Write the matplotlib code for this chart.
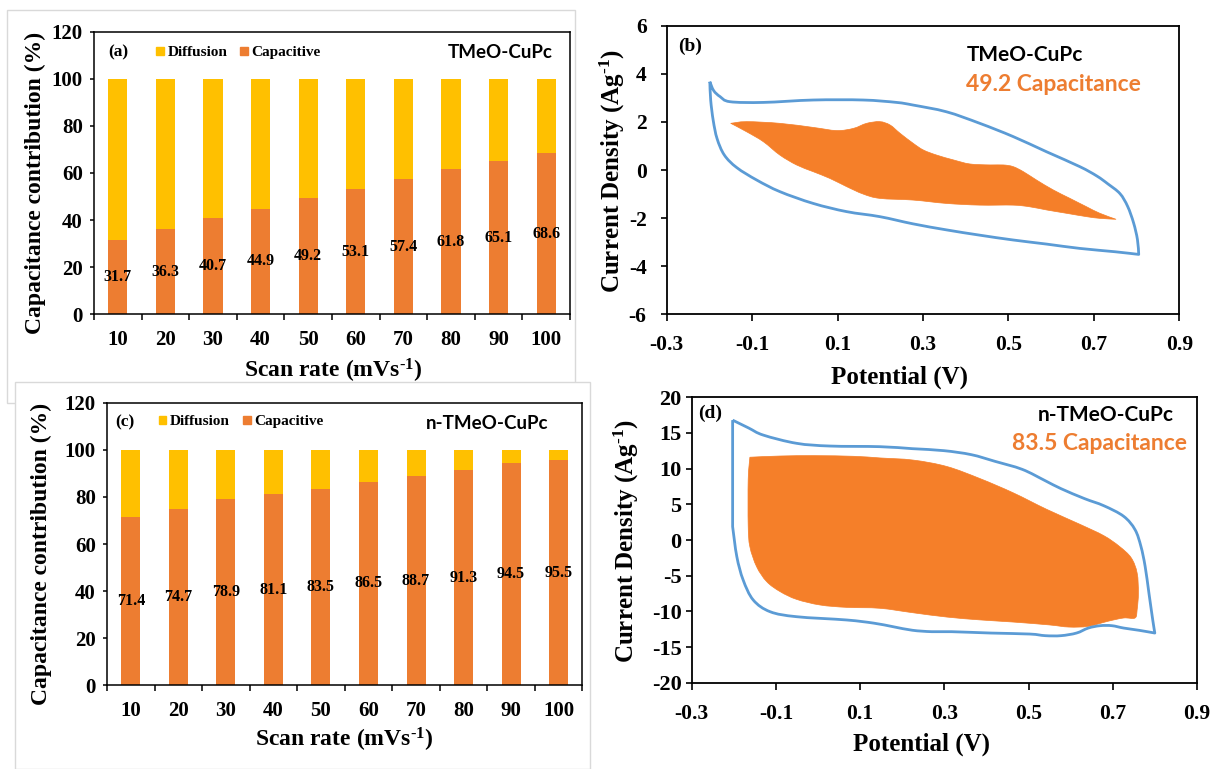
import numpy as np
import matplotlib
matplotlib.use("Agg")
import matplotlib.pyplot as plt
from matplotlib.patches import Patch, Rectangle, PathPatch
from matplotlib.path import Path

# ---------------- data ----------------
scan_rates = ["10", "20", "30", "40", "50", "60", "70", "80", "90", "100"]
capacitive_tmeo = [31.7, 36.3, 40.7, 44.9, 49.2, 53.1, 57.4, 61.8, 65.1, 68.6]
capacitive_ntmeo = [71.4, 74.7, 78.9, 81.1, 83.5, 86.5, 88.7, 91.3, 94.5, 95.5]
bar_yticks = [0, 20, 40, 60, 80, 100, 120]

potential_ticks = [-0.3, -0.1, 0.1, 0.3, 0.5, 0.7, 0.9]
potential_labels = ["-0.3", "-0.1", "0.1", "0.3", "0.5", "0.7", "0.9"]
current_ticks_b = [-6, -4, -2, 0, 2, 4, 6]
current_ticks_d = [-20, -15, -10, -5, 0, 5, 10, 15, 20]

# TMeO-CuPc: total CV loop (V, A/g)
cv_total_b_v = [-0.199, -0.190, -0.175, -0.152, -0.074, 0.043, 0.160, 0.238, 0.277, 0.355,
                0.433, 0.511, 0.589, 0.667, 0.707, 0.733, 0.761, 0.779, 0.793, 0.802, 0.805,
                0.750, 0.667, 0.589, 0.511, 0.433, 0.355, 0.277, 0.199, 0.121, 0.043,
                -0.035, -0.089, -0.136, -0.165, -0.182, -0.191, -0.197, -0.199]
cv_total_b_i = [3.67, 3.30, 3.05, 2.84, 2.81, 2.91, 2.91, 2.81, 2.70, 2.42,
                1.94, 1.39, 0.76, 0.14, -0.25, -0.58, -0.98, -1.51, -2.20, -2.89, -3.51,
                -3.40, -3.26, -3.08, -2.91, -2.71, -2.49, -2.24, -1.94, -1.73, -1.39,
                -0.90, -0.42, 0.10, 0.62, 1.30, 2.05, 2.90, 3.67]
# TMeO-CuPc: capacitive contribution region
cv_cap_b_v = [-0.150, -0.113, -0.035, 0.043, 0.098, 0.137, 0.168, 0.199, 0.223, 0.246,
              0.277, 0.301, 0.332, 0.371, 0.410, 0.457, 0.488, 0.511, 0.535, 0.566,
              0.605, 0.644, 0.683, 0.714, 0.752,
              0.714, 0.683, 0.636, 0.589, 0.550, 0.511, 0.433, 0.355, 0.277, 0.199,
              0.160, 0.121, 0.082, 0.043, 0.004, -0.035, -0.074, -0.113]
cv_cap_b_i = [1.94, 2.01, 1.94, 1.77, 1.64, 1.73, 1.94, 2.01, 1.87, 1.53,
              1.11, 0.83, 0.62, 0.42, 0.25, 0.21, 0.21, 0.14, -0.07, -0.42,
              -0.83, -1.18, -1.53, -1.80, -2.05,
              -2.01, -1.94, -1.80, -1.66, -1.53, -1.46, -1.46, -1.39, -1.25, -1.18,
              -1.00, -0.69, -0.35, -0.07, 0.21, 0.62, 1.18, 1.59]

# n-TMeO-CuPc: total CV loop
cv_total_d_v = [-0.203, -0.165, -0.130, -0.051, 0.028, 0.147, 0.224, 0.299, 0.364, 0.420,
                0.485, 0.540, 0.577, 0.633, 0.679, 0.726, 0.753, 0.767, 0.777, 0.786,
                0.795, 0.800,
                0.763, 0.726, 0.698, 0.670, 0.642, 0.614, 0.577, 0.540, 0.503, 0.410,
                0.317, 0.270, 0.224, 0.178, 0.132, 0.068, -0.051, -0.114, -0.154, -0.178,
                -0.193, -0.203, -0.203]
cv_total_d_i = [16.8, 15.7, 14.7, 13.55, 13.17, 13.08, 12.80, 12.52, 11.96, 11.03,
                9.9, 8.3, 7.2, 5.8, 4.8, 3.32, 1.45, -0.89, -3.69, -7.43,
                -11.17, -13.04,
                -12.66, -12.34, -12.01, -12.01, -12.34, -13.04, -13.41, -13.41, -13.18, -13.04,
                -12.85, -12.85, -12.65, -12.15, -11.65, -11.21, -10.75, -10.05, -8.41, -5.6,
                -2.34, 1.87, 16.8]
# n-TMeO-CuPc: capacitive contribution region
cv_cap_d_v = [-0.162, -0.090, -0.008, 0.085, 0.147, 0.226, 0.306, 0.385, 0.464, 0.543,
              0.622, 0.679, 0.716, 0.744, 0.758, 0.761, 0.758, 0.753,
              0.726, 0.688, 0.642, 0.596, 0.549, 0.464, 0.385, 0.306, 0.226, 0.147,
              0.068, 0.005, -0.051, -0.090, -0.122, -0.146, -0.162, -0.166, -0.166]
cv_cap_d_i = [11.6, 11.77, 11.82, 11.73, 11.5, 11.2, 10.3, 8.6, 6.6, 4.3,
              2.2, 0.6, -0.9, -2.5, -4.63, -7.43, -9.77, -10.93,
              -10.93, -11.4, -12.1, -12.2, -11.9, -11.5, -11.2, -10.8, -10.2, -9.57,
              -9.44, -9.11, -8.32, -7.24, -5.84, -3.74, -0.94, 2.0, 8.5]

# ---------------- style ----------------
YELLOW = "#FFC000"
ORANGE = "#ED7D31"
FILL = "#F57F29"
BLUE = "#5B9BD5"
SERIF = "Liberation Serif"
SANS = "Lato"

plt.rcParams.update({
    "font.family": SERIF,
    "font.weight": "bold",
    "axes.labelweight": "bold",
    "mathtext.fontset": "custom",
    "mathtext.rm": "Liberation Serif:bold",
    "mathtext.it": "Liberation Serif:bold",
    "mathtext.bf": "Liberation Serif:bold",
    "axes.unicode_minus": False,
})

W, H = 1213, 769
fig = plt.figure(figsize=(W / 100, H / 100), dpi=100)
fig.patch.set_facecolor("white")


def px_axes(left, top, right, bottom):
    return fig.add_axes([left / W, 1 - bottom / H, (right - left) / W, (bottom - top) / H])


def smooth_path(xs, ys, corners=(), close=False):
    """Smoothed (Bezier) path through the given points, like a spreadsheet 'smooth line'."""
    pts = np.column_stack([xs, ys]).astype(float)
    if close:
        pts = np.vstack([pts, pts[:1]])
    n = len(pts)
    sharp = set(corners) | {0, n - 1}
    verts = [pts[0]]
    codes = [Path.MOVETO]
    for k in range(n - 1):
        p1, p2 = pts[k], pts[k + 1]
        p0 = p1 if k in sharp else pts[k - 1]
        p3 = p2 if (k + 1) in sharp else pts[k + 2]
        verts += [p1 + (p2 - p0) / 6.0, p2 - (p3 - p1) / 6.0, p2]
        codes += [Path.CURVE4] * 3
    return Path(verts, codes)


# faint borders of the two left-hand sub-figures
fig.add_artist(Rectangle((7 / W, 1 - 403 / H), (575 - 7) / W, (403 - 10) / H,
                         transform=fig.transFigure, fill=False, ec="#d9d9d9", lw=1, zorder=-2))
fig.add_artist(Rectangle((15 / W, 0), (590 - 15) / W, 1 - 382 / H,
                         transform=fig.transFigure, fc="white", ec="#d9d9d9", lw=1, zorder=-1))

SUP = "$^{\\text{-}1}$"


def bar_panel(ax, capacitive, tag, name, tag_xy, leg_xy, name_xy, ylab_xy, xlab_xy):
    x = np.arange(len(scan_rates))
    diffusion = [100 - c for c in capacitive]
    ax.bar(x, capacitive, 0.4, color=ORANGE, zorder=2)
    ax.bar(x, diffusion, 0.4, bottom=capacitive, color=YELLOW, zorder=2)
    for xi, c in zip(x, capacitive):
        ax.text(xi, c / 2, f"{c:.1f}", ha="center", va="center", fontsize=11.5,
                fontweight="bold", zorder=3)
    ax.set_xlim(-0.5, len(scan_rates) - 0.5)
    ax.set_ylim(0, 120)
    ax.set_yticks(bar_yticks)
    ax.set_xticks(x)
    ax.set_xticklabels(scan_rates)
    ax.set_xticks(np.arange(-0.5, len(scan_rates), 1), minor=True)
    ax.tick_params(axis="x", which="major", length=0, pad=11, labelsize=15)
    ax.tick_params(axis="x", which="minor", length=4.5, width=1.1, direction="out")
    ax.tick_params(axis="y", length=3, width=1.1, pad=5, labelsize=15)
    for s in ax.spines.values():
        s.set_linewidth(1.1)
    ax.text(*tag_xy, tag, transform=ax.transAxes, ha="left", va="center",
            fontsize=12.5, fontweight="bold")
    ax.text(*name_xy, name, transform=ax.transAxes, ha="right", va="center",
            fontsize=13.5, fontweight="bold", family=SANS)
    handles = [Patch(color=YELLOW), Patch(color=ORANGE)]
    ax.legend(handles, ["Diffusion", "Capacitive"], loc="center left",
              bbox_to_anchor=leg_xy, ncol=2, frameon=False, fontsize=11,
              handlelength=0.5, handleheight=0.5, handletextpad=0.25,
              columnspacing=0.85, borderpad=0, borderaxespad=0)
    ax.set_ylabel("Capacitance contribution (%)", fontsize=17)
    ax.set_xlabel("Scan rate (mVs" + SUP + ")", fontsize=17)
    ax.yaxis.label.set_va("center")
    ax.xaxis.label.set_va("center")
    ax.yaxis.set_label_coords(*ylab_xy)
    ax.xaxis.set_label_coords(*xlab_xy)


def cv_panel(ax, total_v, total_i, total_corners, cap_v, cap_i, cap_corners, ylim, yticks,
             tag, name, share, tag_xy, name_xy, share_xy, ylab_xy, xlab_xy, ypad, ysize):
    ax.add_patch(PathPatch(smooth_path(cap_v, cap_i, cap_corners, close=True),
                           fc=FILL, ec=FILL, lw=0.5, zorder=2))
    ax.add_patch(PathPatch(smooth_path(total_v, total_i, total_corners),
                           fill=False, ec=BLUE, lw=2.0, joinstyle="round", zorder=3))
    ax.set_xlim(-0.3, 0.9)
    ax.set_ylim(*ylim)
    ax.set_xticks(potential_ticks)
    ax.set_xticklabels(potential_labels)
    ax.set_yticks(yticks)
    ax.set_yticklabels([str(t) for t in yticks])
    ax.tick_params(axis="x", length=5, width=1.2, pad=10, labelsize=15.5)
    ax.tick_params(axis="y", length=4.5, width=1.2, pad=ypad, labelsize=ysize)
    for s in ax.spines.values():
        s.set_linewidth(1.3)
    ax.text(*tag_xy, tag, transform=ax.transAxes, ha="left", va="center",
            fontsize=14, fontweight="bold")
    ax.text(*name_xy, name, transform=ax.transAxes, ha="left", va="center",
            fontsize=15, fontweight="bold", family=SANS, color="black")
    ax.text(*share_xy, share, transform=ax.transAxes, ha="left", va="center",
            fontsize=16.5, fontweight="bold", family=SANS, color=ORANGE)
    ax.set_ylabel("Current Density (Ag" + SUP + ")", fontsize=18)
    ax.set_xlabel("Potential (V)", fontsize=18)
    ax.yaxis.label.set_va("center")
    ax.xaxis.label.set_va("center")
    ax.yaxis.set_label_coords(*ylab_xy)
    ax.xaxis.set_label_coords(*xlab_xy)


ax_a = px_axes(94, 31.7, 570, 314.3)
bar_panel(ax_a, capacitive_tmeo, "(a)", "TMeO-CuPc",
          tag_xy=(0.029, 0.926), leg_xy=(0.130, 0.925), name_xy=(0.963, 0.925),
          ylab_xy=(-0.123, 0.465), xlab_xy=(0.502, -0.201))

ax_c = px_axes(107, 402.7, 582.4, 685.3)
bar_panel(ax_c, capacitive_ntmeo, "(c)", "n-TMeO-CuPc",
          tag_xy=(0.017, 0.931), leg_xy=(0.109, 0.932), name_xy=(0.928, 0.927),
          ylab_xy=(-0.137, 0.465), xlab_xy=(0.499, -0.194))

ax_b = px_axes(666.7, 25.7, 1179.3, 314.3)
cv_panel(ax_b, cv_total_b_v, cv_total_b_i, (20,), cv_cap_b_v, cv_cap_b_i, (24,),
         (-6, 6), current_ticks_b,
         "(b)", "TMeO-CuPc", "49.2 Capacitance",
         tag_xy=(0.022, 0.927), name_xy=(0.586, 0.898), share_xy=(0.583, 0.795),
         ylab_xy=(-0.106, 0.495), xlab_xy=(0.455, -0.217), ypad=10, ysize=15.5)

ax_d = px_axes(691.8, 397.3, 1196.9, 682.7)
cv_panel(ax_d, cv_total_d_v, cv_total_d_i, (21, 43), cv_cap_d_v, cv_cap_d_i, (),
         (-20, 20), current_ticks_d,
         "(d)", "n-TMeO-CuPc", "83.5 Capacitance",
         tag_xy=(0.012, 0.945), name_xy=(0.684, 0.938), share_xy=(0.634, 0.839),
         ylab_xy=(-0.130, 0.495), xlab_xy=(0.454, -0.215), ypad=3, ysize=16)

fig.savefig("out.png", dpi=100, facecolor="white")
